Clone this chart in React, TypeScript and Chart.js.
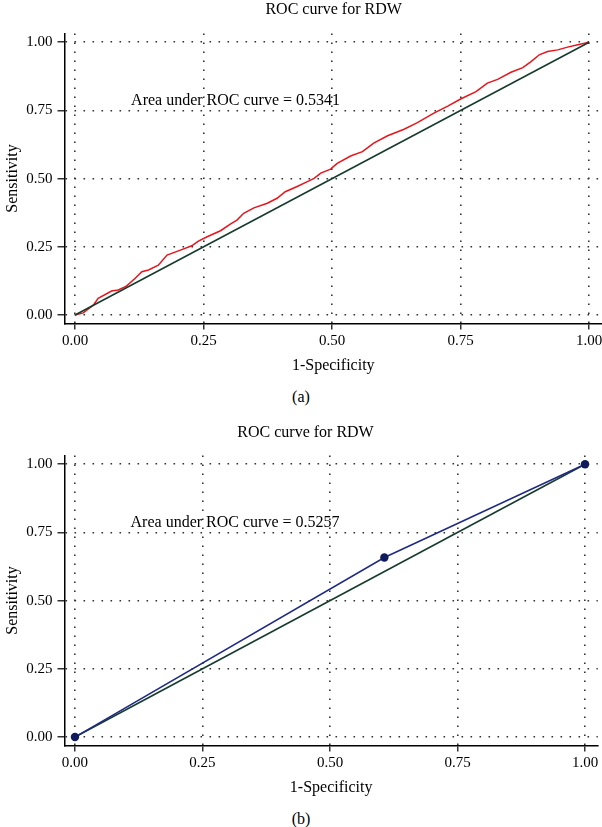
import React, { useEffect, useRef } from "react";
import { Chart, registerables } from "chart.js";

Chart.register(...registerables);

// ---------- data ----------
const AXIS_TICKS = [0, 0.25, 0.5, 0.75, 1];
const AXIS_TICK_LABELS = ["0.00", "0.25", "0.50", "0.75", "1.00"];

const CHART_TITLE = "ROC curve for RDW";
const X_TITLE = "1-Specificity";
const Y_TITLE = "Sensitivity";

// Panel (a): empirical ROC curve (1-specificity, sensitivity)
const ROC_A_FPR = [
  0, 0.016, 0.036, 0.045, 0.071, 0.084, 0.1, 0.117, 0.13, 0.143, 0.162, 0.179,
  0.205, 0.227, 0.24, 0.257, 0.283, 0.302, 0.315, 0.328, 0.348, 0.374, 0.393,
  0.409, 0.432, 0.452, 0.465, 0.478, 0.497, 0.51, 0.536, 0.559, 0.581, 0.608,
  0.64, 0.666, 0.698, 0.725, 0.75, 0.78, 0.802, 0.822, 0.848, 0.871, 0.887,
  0.903, 0.919, 0.939, 0.958, 0.978, 1.0,
];
const ROC_A_TPR = [
  0, 0.008, 0.037, 0.061, 0.088, 0.092, 0.106, 0.135, 0.159, 0.165, 0.183, 0.22,
  0.238, 0.254, 0.271, 0.287, 0.309, 0.333, 0.348, 0.373, 0.393, 0.41, 0.428,
  0.452, 0.471, 0.489, 0.501, 0.52, 0.535, 0.556, 0.583, 0.599, 0.63, 0.657,
  0.681, 0.705, 0.74, 0.766, 0.792, 0.819, 0.85, 0.864, 0.89, 0.907, 0.929,
  0.954, 0.966, 0.972, 0.982, 0.991, 1.0,
];
const AUC_A_TEXT = "Area under ROC curve = 0.5341";

// Panel (b): ROC with one cut-point
const ROC_B_FPR = [0, 0.6066, 1];
const ROC_B_TPR = [0, 0.658, 1];
const AUC_B_TEXT = "Area under ROC curve = 0.5257";

// Reference (chance) line
const DIAG_X = [0, 1];
const DIAG_Y = [0, 1];

// ---------- styling ----------
const FONT = '"Liberation Serif", "Times New Roman", serif';

const overlayText = {
  id: "overlayText",
  afterDraw(chart: any, _args: any, opts: any) {
    const { ctx } = chart;
    const xs = chart.scales.x;
    const ys = chart.scales.y;
    ctx.save();
    ctx.fillStyle = "#000";
    ctx.textBaseline = "middle";
    ctx.font = `16px ${FONT}`;
    ctx.textAlign = "center";
    ctx.fillText(opts.title, xs.getPixelForValue(opts.titleX), opts.titleY);
    ctx.textAlign = "left";
    ctx.fillText(opts.note, xs.getPixelForValue(opts.noteX), ys.getPixelForValue(opts.noteY));
    ctx.restore();
  },
};

const setTicks = (s: any) => {
  s.ticks = AXIS_TICKS.map((v) => ({ value: v }));
};
const tickLabel = (v: any) => {
  const i = AXIS_TICKS.indexOf(Number(v));
  return i >= 0 ? AXIS_TICK_LABELS[i] : "";
};

type PanelProps = {
  top: number;
  fpr: number[];
  tpr: number[];
  note: string;
  lineColor: string;
  pointColor: string;
  showPoints: boolean;
  rocOnTop: boolean;
  caption: string;
  titleX: number;
  titleY: number;
};

function Panel(p: PanelProps) {
  const ref = useRef<HTMLCanvasElement | null>(null);
  useEffect(() => {
    if (!ref.current) return;
    const gridCommon = {
      color: "#333",
      lineWidth: 1.6,
      tickColor: "#000",
      tickWidth: 1.2,
      tickBorderDash: [],
    };
    const borderCommon = { display: true, color: "#000", width: 1.5, dash: [1.6, 7.4] };
    const chart = new Chart(ref.current, {
      type: "scatter",
      data: {
        datasets: [
          {
            label: "ROC",
            data: p.fpr.map((x, i) => ({ x, y: p.tpr[i] })),
            showLine: true,
            borderColor: p.lineColor,
            borderWidth: 1.5,
            pointRadius: p.showPoints ? 4.2 : 0,
            pointBackgroundColor: p.pointColor,
            pointBorderColor: p.pointColor,
            pointBorderWidth: 0,
            order: p.rocOnTop ? 0 : 1,
          },
          {
            label: "Reference",
            data: DIAG_X.map((x, i) => ({ x, y: DIAG_Y[i] })),
            showLine: true,
            borderColor: "#173b2d",
            borderWidth: 1.6,
            pointRadius: 0,
            order: p.rocOnTop ? 1 : 0,
          },
        ],
      },
      options: {
        responsive: false,
        animation: false,
        layout: { padding: { top: 33.5, left: 0, right: 0, bottom: 0 } },
        plugins: {
          legend: { display: false },
          tooltip: { enabled: false },
          title: { display: false },
          overlayText: {
            title: CHART_TITLE,
            titleX: p.titleX,
            titleY: p.titleY,
            note: p.note,
            noteX: 0.109,
            noteY: 0.787,
          },
        } as any,
        scales: {
          x: {
            type: "linear",
            min: -0.0205,
            max: 1.025,
            afterBuildTicks: setTicks,
            afterFit: (s: any) => {
              s.height = 56.5;
              s.paddingLeft = 0;
              s.paddingRight = 0;
            },
            ticks: {
              callback: tickLabel,
              font: { family: FONT, size: 15 },
              color: "#000",
              padding: 3,
              maxRotation: 0,
              autoSkip: false,
            },
            grid: { ...gridCommon, tickLength: 6 },
            border: borderCommon,
            title: {
              display: true,
              text: X_TITLE,
              font: { family: FONT, size: 16 },
              color: "#000",
              padding: { top: 0, bottom: 4.4 },
            },
          },
          y: {
            type: "linear",
            min: -0.031,
            max: 1.032,
            afterBuildTicks: setTicks,
            afterFit: (s: any) => {
              s.width = 64.5;
            },
            ticks: {
              callback: tickLabel,
              font: { family: FONT, size: 15 },
              color: "#000",
              padding: 5,
              autoSkip: false,
            },
            grid: { ...gridCommon, tickLength: 7 },
            border: borderCommon,
            title: {
              display: true,
              text: Y_TITLE,
              font: { family: FONT, size: 16 },
              color: "#000",
              padding: { top: 3, bottom: 0 },
            },
          },
        },
      } as any,
      plugins: [overlayText],
    });
    return () => chart.destroy();
  }, []);

  return (
    <>
      <canvas
        ref={ref}
        width={602}
        height={380}
        style={{ position: "absolute", left: 0, top: p.top, width: 602, height: 380, display: "block" }}
      />
      <div
        style={{
          position: "absolute",
          left: 0,
          top: p.top + 387,
          width: 602,
          height: 20,
          lineHeight: "20px",
          textAlign: "center",
          fontFamily: FONT,
          fontSize: 16,
          color: "#000",
        }}
      >
        {p.caption}
      </div>
    </>
  );
}

export default function App() {
  return (
    <div
      style={{
        position: "absolute",
        left: 0,
        top: 0,
        width: 602,
        height: 827,
        overflow: "hidden",
        background: "#fff",
      }}
    >
      <Panel
        top={0}
        fpr={ROC_A_FPR}
        tpr={ROC_A_TPR}
        note={AUC_A_TEXT}
        lineColor="#e8141c"
        pointColor="#e8141c"
        showPoints={false}
        rocOnTop={false}
        caption="(a)"
        titleX={0.503}
        titleY={9.5}
      />
      <Panel
        top={422}
        fpr={ROC_B_FPR}
        tpr={ROC_B_TPR}
        note={AUC_B_TEXT}
        lineColor="#1f2a84"
        pointColor="#0f1b5c"
        showPoints={true}
        rocOnTop={true}
        caption="(b)"
        titleX={0.452}
        titleY={10.5}
      />
    </div>
  );
}
